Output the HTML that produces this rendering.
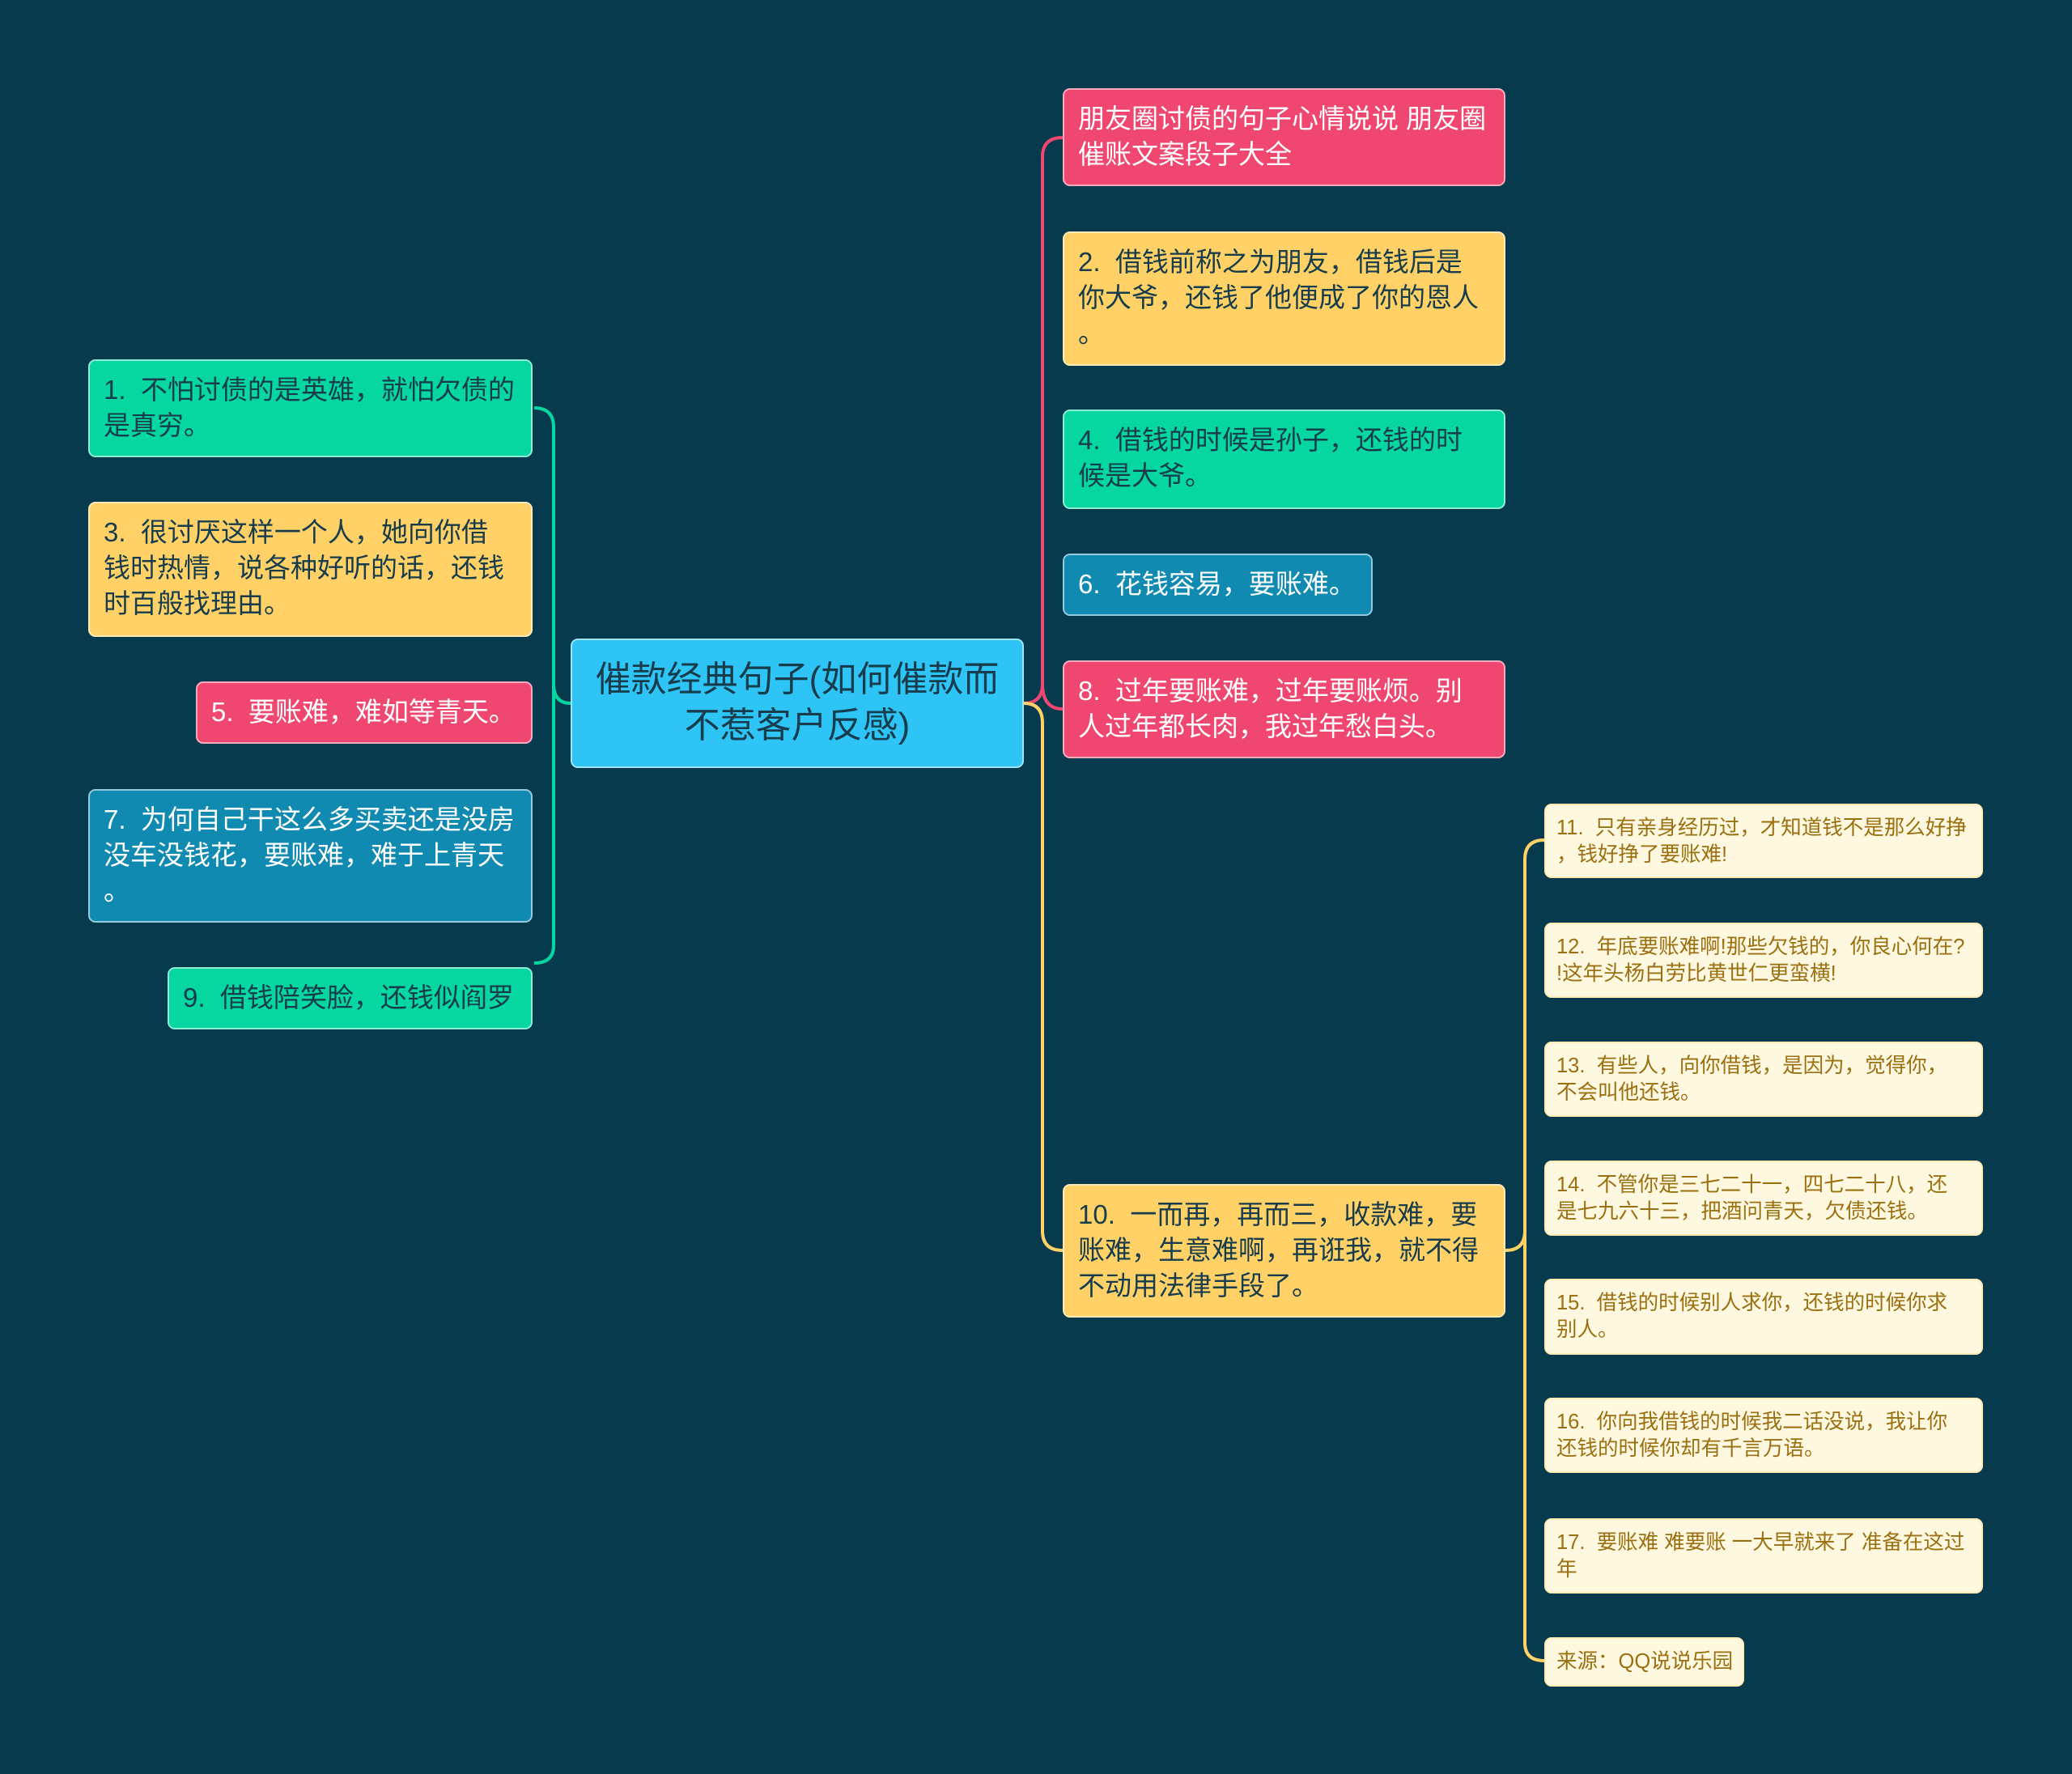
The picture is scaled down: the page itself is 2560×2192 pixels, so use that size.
<!DOCTYPE html>
<html><head><meta charset="utf-8"><style>
body{margin:0;width:2560px;height:2192px;background:#073a4d;position:relative;overflow:hidden;font-family:"Liberation Sans","Noto Sans CJK SC",sans-serif}
.b{position:absolute;box-sizing:border-box;border-radius:9px;padding:14px 10px 12px 17px;font-size:33px;line-height:44px;border:2px solid rgba(255,255,255,.55);white-space:nowrap}
.g{background:#06d6a0;color:#173c4c}.y{background:#ffd166;color:#173c4c}.p{background:#ef476f;color:#fff}.bl{background:#118ab2;color:#fff}
.s{background:#fff8e1;color:#9a7010;font-size:25.5px;line-height:33px;padding:12px 10px 12px 13px;border:2px solid rgba(255,230,160,.7)}
.c{background:#2ec4f6;color:#173c4c;font-size:44px;line-height:57px;text-align:center;padding:20px 10px}
svg{position:absolute;left:0;top:0}
</style></head><body>
<svg width="2560" height="2192" fill="none" stroke-width="4">
<path d="M705 869 Q684 869 684 845 L684 528 Q684 504 660 504" stroke="#06d6a0"/>
<path d="M684 845 L684 1168 Q684 1190 660 1190" stroke="#06d6a0"/>
<path d="M1265 869 Q1288 869 1288 845 L1288 194 Q1288 170 1313 170" stroke="#ef476f"/>
<path d="M1288 845 Q1288 876 1313 876" stroke="#ef476f"/>
<path d="M1265 869 Q1288 869 1288 893 L1288 1521 Q1288 1545 1313 1545" stroke="#ffd166"/>
<path d="M1860 1545 Q1884 1545 1884 1521 L1884 1062 Q1884 1038 1908 1038" stroke="#ffd166"/>
<path d="M1884 1521 L1884 2030 Q1884 2052 1908 2052" stroke="#ffd166"/>
</svg>
<div class="b c" style="left:705px;top:789px;width:560px;height:160px">催款经典句子(如何催款而<br>不惹客户反感)</div>
<div class="b g" style="left:109px;top:444px;width:549px;height:121px">1.&nbsp; 不怕讨债的是英雄，就怕欠债的<br>是真穷。</div>
<div class="b y" style="left:109px;top:620px;width:549px;height:167px">3.&nbsp; 很讨厌这样一个人，她向你借<br>钱时热情，说各种好听的话，还钱<br>时百般找理由。</div>
<div class="b p" style="left:242px;top:842px;width:416px;height:77px">5.&nbsp; 要账难，难如等青天。</div>
<div class="b bl" style="left:109px;top:975px;width:549px;height:165px">7.&nbsp; 为何自己干这么多买卖还是没房<br>没车没钱花，要账难，难于上青天<br>。</div>
<div class="b g" style="left:207px;top:1195px;width:451px;height:77px">9.&nbsp; 借钱陪笑脸，还钱似阎罗</div>
<div class="b p" style="left:1313px;top:109px;width:547px;height:121px">朋友圈讨债的句子心情说说 朋友圈<br>催账文案段子大全</div>
<div class="b y" style="left:1313px;top:286px;width:547px;height:166px">2.&nbsp; 借钱前称之为朋友，借钱后是<br>你大爷，还钱了他便成了你的恩人<br>。</div>
<div class="b g" style="left:1313px;top:506px;width:547px;height:123px">4.&nbsp; 借钱的时候是孙子，还钱的时<br>候是大爷。</div>
<div class="b bl" style="left:1313px;top:684px;width:383px;height:77px">6.&nbsp; 花钱容易，要账难。</div>
<div class="b p" style="left:1313px;top:816px;width:547px;height:121px">8.&nbsp; 过年要账难，过年要账烦。别<br>人过年都长肉，我过年愁白头。</div>
<div class="b y" style="left:1313px;top:1463px;width:547px;height:165px">10.&nbsp; 一而再，再而三，收款难，要<br>账难，生意难啊，再诳我，就不得<br>不动用法律手段了。</div>
<div class="b s" style="left:1908px;top:993px;width:542px;height:92px">11.&nbsp; 只有亲身经历过，才知道钱不是那么好挣<br>，钱好挣了要账难!</div>
<div class="b s" style="left:1908px;top:1140px;width:542px;height:93px">12.&nbsp; 年底要账难啊!那些欠钱的，你良心何在?<br>!这年头杨白劳比黄世仁更蛮横!</div>
<div class="b s" style="left:1908px;top:1287px;width:542px;height:93px">13.&nbsp; 有些人，向你借钱，是因为，觉得你，<br>不会叫他还钱。</div>
<div class="b s" style="left:1908px;top:1434px;width:542px;height:93px">14.&nbsp; 不管你是三七二十一，四七二十八，还<br>是七九六十三，把酒问青天，欠债还钱。</div>
<div class="b s" style="left:1908px;top:1580px;width:542px;height:94px">15.&nbsp; 借钱的时候别人求你，还钱的时候你求<br>别人。</div>
<div class="b s" style="left:1908px;top:1727px;width:542px;height:93px">16.&nbsp; 你向我借钱的时候我二话没说，我让你<br>还钱的时候你却有千言万语。</div>
<div class="b s" style="left:1908px;top:1876px;width:542px;height:93px">17.&nbsp; 要账难 难要账 一大早就来了 准备在这过<br>年</div>
<div class="b s" style="left:1908px;top:2023px;width:247px;height:61px">来源：QQ说说乐园</div>
</body></html>
